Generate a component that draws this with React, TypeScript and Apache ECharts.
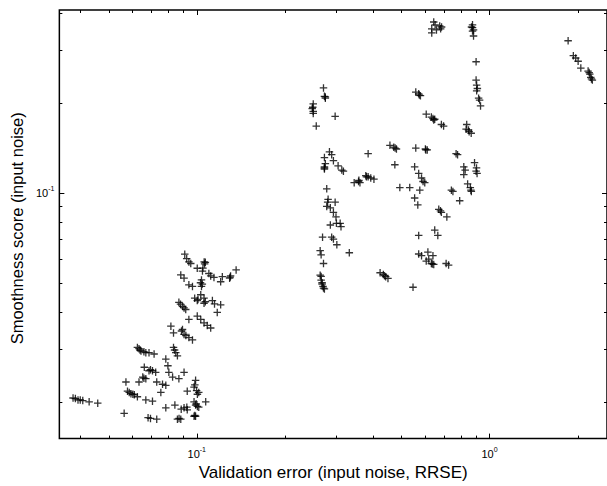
import { useEffect, useRef } from 'react';
import * as echarts from 'echarts';

const FONT = "'Liberation Sans', Arial, Helvetica, sans-serif";

// Axis extents (log scales) and tick values
const xRange = [0.03394, 2.52];
const yRange = [0.01507, 0.408];
const xMajorTicks = [0.1, 1];
const xMinorTicks = [0.04, 0.05, 0.06, 0.07, 0.08, 0.09, 0.2, 0.3, 0.4, 0.5, 0.6, 0.7, 0.8, 0.9, 2];
const yMajorTicks = [0.1];
const yMinorTicks = [0.02, 0.03, 0.04, 0.05, 0.06, 0.07, 0.08, 0.09, 0.2, 0.3, 0.4];

const xAxisTitle = 'Validation error (input noise, RRSE)';
const yAxisTitle = 'Smoothness score (input noise)';

// [validation error, smoothness score]
const leftTail: [number, number][] = [
  [0.0378, 0.0206], [0.0385, 0.0205], [0.0393, 0.0203], [0.04, 0.0203], [0.0408, 0.0202], [0.0429, 0.02], [0.0459, 0.0198],
];

const bottomCluster: [number, number][] = [
  [0.0627, 0.0304], [0.0635, 0.0301], [0.064, 0.0298], [0.0645, 0.0296], [0.066, 0.0294], [0.067, 0.0292], [0.0687, 0.0292], [0.0715, 0.0289],
  [0.0833, 0.0304], [0.084, 0.0298], [0.0848, 0.0292], [0.0859, 0.0285],
  [0.0784, 0.0278], [0.0797, 0.0264],
  [0.0662, 0.0261], [0.0687, 0.0254], [0.0695, 0.0256], [0.0706, 0.0254], [0.0724, 0.0251],
  [0.0803, 0.0251], [0.0827, 0.0242], [0.0869, 0.0239], [0.0905, 0.0251],
  [0.0654, 0.0242], [0.066, 0.024], [0.067, 0.0239], [0.0635, 0.0233],
  [0.0573, 0.0233], [0.058, 0.0217], [0.0588, 0.0215], [0.0596, 0.0213], [0.0605, 0.0212], [0.0612, 0.0211], [0.0627, 0.0208],
  [0.073, 0.0233], [0.0764, 0.0229], [0.0784, 0.0227], [0.0754, 0.0215],
  [0.0991, 0.0236], [0.0985, 0.0228], [0.0979, 0.0224], [0.0999, 0.0218], [0.1016, 0.0215], [0.1005, 0.0212], [0.0928, 0.0217],
  [0.067, 0.0203], [0.0706, 0.0201],
  [0.0565, 0.0183],
  [0.0784, 0.0191], [0.0842, 0.0195], [0.0905, 0.0191], [0.0925, 0.0192], [0.0885, 0.0189], [0.0979, 0.02], [0.0995, 0.0197],
  [0.0991, 0.0195], [0.1005, 0.0193], [0.1016, 0.0192], [0.1073, 0.02], [0.0928, 0.0188],
  [0.0682, 0.0177], [0.0695, 0.0176], [0.073, 0.0175], [0.0859, 0.0175], [0.087, 0.0176], [0.0882, 0.0175],
  [0.0979, 0.0179], [0.0985, 0.018], [0.0991, 0.0179],
];

const lowerCluster: [number, number][] = [
  [0.091, 0.0623], [0.0924, 0.0602], [0.094, 0.0587], [0.0954, 0.058], [0.106, 0.0587], [0.1064, 0.0578], [0.107, 0.0585],
  [0.1004, 0.0559], [0.105, 0.056], [0.1046, 0.0547], [0.11, 0.0537], [0.1116, 0.0527], [0.1145, 0.0521], [0.1223, 0.0524],
  [0.1207, 0.0504], [0.1305, 0.0527], [0.1295, 0.0518], [0.13, 0.0522], [0.1363, 0.0552],
  [0.0882, 0.0531], [0.0905, 0.0518], [0.094, 0.0492], [0.0967, 0.0486], [0.1038, 0.0511], [0.1038, 0.0486], [0.103, 0.05], [0.1045, 0.0495],
  [0.0984, 0.0444], [0.1004, 0.0436], [0.101, 0.044], [0.1032, 0.0456], [0.1059, 0.0444], [0.1059, 0.0427], [0.107, 0.0432],
  [0.1131, 0.0436], [0.115, 0.0425], [0.1207, 0.0422], [0.1175, 0.0398],
  [0.0869, 0.043], [0.088, 0.0424], [0.0894, 0.0417], [0.0905, 0.0412], [0.0917, 0.0407], [0.1004, 0.0387], [0.1032, 0.0377],
  [0.1059, 0.0367], [0.1086, 0.036], [0.1116, 0.0353], [0.094, 0.0377],
  [0.0816, 0.0358], [0.0833, 0.034], [0.0894, 0.0349], [0.0887, 0.0345], [0.0905, 0.0336], [0.0918, 0.0333], [0.094, 0.0328], [0.0967, 0.0322],
];

const midColumn: [number, number][] = [
  [0.284, 0.137], [0.289, 0.134], [0.273, 0.131], [0.293, 0.128], [0.273, 0.122], [0.273, 0.12], [0.273, 0.121], [0.275, 0.125],
  [0.304, 0.123], [0.313, 0.119], [0.317, 0.118],
  [0.278, 0.103], [0.281, 0.095], [0.278, 0.09], [0.286, 0.089], [0.297, 0.093], [0.28, 0.093], [0.293, 0.086], [0.299, 0.083],
  [0.286, 0.078], [0.309, 0.079], [0.3, 0.079], [0.311, 0.077], [0.269, 0.071], [0.289, 0.071], [0.293, 0.07], [0.301, 0.067], [0.332, 0.063],
  [0.264, 0.064], [0.266, 0.062], [0.271, 0.058], [0.264, 0.053], [0.266, 0.0525], [0.266, 0.051], [0.268, 0.05], [0.268, 0.0495],
  [0.27, 0.0486], [0.271, 0.048], [0.273, 0.0477],
];

const upperLeft: [number, number][] = [
  [0.271, 0.224], [0.275, 0.209], [0.275, 0.207], [0.273, 0.21], [0.25, 0.198], [0.248, 0.191], [0.25, 0.187], [0.25, 0.184],
  [0.249, 0.193], [0.256, 0.167], [0.297, 0.18],
];

const midRight: [number, number][] = [
  [0.608, 0.183], [0.633, 0.179], [0.641, 0.177], [0.65, 0.176], [0.645, 0.175], [0.685, 0.169], [0.697, 0.167],
  [0.836, 0.169], [0.832, 0.163], [0.848, 0.162], [0.866, 0.158], [0.852, 0.16],
  [0.457, 0.144], [0.471, 0.142], [0.481, 0.14], [0.476, 0.141], [0.56, 0.141], [0.604, 0.14], [0.613, 0.139], [0.606, 0.139],
  [0.385, 0.135], [0.769, 0.135], [0.778, 0.134], [0.475, 0.124], [0.555, 0.122],
  [0.817, 0.122], [0.826, 0.119], [0.817, 0.115], [0.889, 0.126], [0.9, 0.118], [0.907, 0.116], [0.903, 0.121],
  [0.573, 0.116], [0.586, 0.112], [0.593, 0.109], [0.601, 0.108],
  [0.345, 0.108], [0.358, 0.11], [0.361, 0.108], [0.357, 0.109], [0.378, 0.114], [0.385, 0.113], [0.38, 0.113], [0.393, 0.112], [0.403, 0.111],
  [0.494, 0.104], [0.534, 0.104], [0.578, 0.102],
  [0.842, 0.107], [0.86, 0.104], [0.867, 0.101], [0.864, 0.102], [0.741, 0.102], [0.75, 0.101], [0.791, 0.094],
  [0.555, 0.096], [0.569, 0.091], [0.671, 0.088], [0.685, 0.086], [0.68, 0.087], [0.715, 0.083],
];

const midLower: [number, number][] = [
  [0.573, 0.072], [0.65, 0.075], [0.666, 0.072],
  [0.573, 0.0624], [0.586, 0.0616], [0.616, 0.0633], [0.641, 0.0616], [0.608, 0.0591], [0.62, 0.06], [0.633, 0.058], [0.638, 0.0578],
  [0.645, 0.0576], [0.711, 0.058], [0.725, 0.0573],
  [0.423, 0.054], [0.434, 0.0533], [0.438, 0.0528], [0.442, 0.0524], [0.45, 0.0517],
  [0.548, 0.0483],
];

const topCluster: [number, number][] = [
  [0.645, 0.372], [0.635, 0.353], [0.635, 0.342], [0.676, 0.361], [0.686, 0.358], [0.681, 0.353], [0.659, 0.35], [0.652, 0.364],
  [0.875, 0.364], [0.875, 0.356], [0.882, 0.35], [0.875, 0.347], [0.882, 0.334], [0.868, 0.358],
  [0.9, 0.274], [0.9, 0.238], [0.904, 0.229], [0.909, 0.223], [0.904, 0.219], [0.918, 0.207], [0.925, 0.204], [0.932, 0.195],
  [0.56, 0.217], [0.573, 0.214], [0.581, 0.211], [0.576, 0.212],
];

const farRight: [number, number][] = [
  [1.856, 0.322], [1.934, 0.287], [1.97, 0.282], [2.008, 0.275], [2.051, 0.261], [2.172, 0.255], [2.19, 0.252],
  [2.201, 0.249], [2.218, 0.243], [2.23, 0.24], [2.246, 0.238],
];

const PLUS = 'path://M3.75,0L3.75,7.5M0,3.75L7.5,3.75';

export default function App() {
  const ref = useRef<HTMLDivElement>(null);
  useEffect(() => {
    if (!ref.current) return;
    const chart = echarts.init(ref.current, null, { renderer: 'svg' });
    const points = [
      ...leftTail, ...bottomCluster, ...lowerCluster, ...midColumn, ...upperLeft,
      ...midRight, ...midLower, ...topCluster, ...farRight,
    ];
    const fmt = (v: number) => {
      const l = Math.log10(v);
      const r = Math.round(l);
      if (Math.abs(l - r) > 1e-6) return '';
      return `{b|10}{s|${r}}`;
    };
    const rich = {
      b: { fontSize: 11, fontFamily: FONT, color: '#000' },
      s: { fontSize: 7, fontFamily: FONT, color: '#000', padding: [0, 0, 9, 0] },
    };
    const tickSeries = (values: number[], axis: 'x' | 'y', major: boolean) => ({
      type: 'custom',
      silent: true,
      clip: false,
      z: 5,
      data: values.map((v) => (axis === 'x' ? [v, 0.1] : [0.1, v])),
      renderItem: (params: any, api: any) => {
        const p = api.coord([api.value(0), api.value(1)]);
        const cs = params.coordSys;
        const len = major ? 5 : 3;
        const style = { stroke: '#000', lineWidth: 1 };
        if (axis === 'x') {
          const x = Math.round(p[0]) + 0.5;
          const b = cs.y + cs.height;
          return {
            type: 'group',
            children: [
              { type: 'line', shape: { x1: x, y1: b, x2: x, y2: b - len }, style },
              { type: 'line', shape: { x1: x, y1: cs.y, x2: x, y2: cs.y + len }, style },
            ],
          };
        }
        const y = Math.round(p[1]) + 0.5;
        const r = cs.x + cs.width;
        return {
          type: 'group',
          children: [
            { type: 'line', shape: { x1: cs.x, y1: y, x2: cs.x + len, y2: y }, style },
            { type: 'line', shape: { x1: r, y1: y, x2: r - len, y2: y }, style },
          ],
        };
      },
    });
    chart.setOption({
      animation: false,
      backgroundColor: '#fff',
      grid: {
        left: 58, top: 10, width: 550, height: 434,
        show: true, borderColor: '#000', borderWidth: 1.5, backgroundColor: '#fff',
      },
      xAxis: {
        type: 'log',
        min: xRange[0],
        max: xRange[1],
        name: xAxisTitle,
        nameLocation: 'middle',
        nameGap: 24,
        nameTextStyle: { fontFamily: FONT, fontSize: 17, color: '#000' },
        axisLine: { show: false },
        axisTick: { show: false },
        splitLine: { show: false },
        minorTick: { show: false },
        axisLabel: { formatter: fmt, rich, color: '#000', margin: 7, showMinLabel: false, showMaxLabel: false },
      },
      yAxis: {
        type: 'log',
        min: yRange[0],
        max: yRange[1],
        name: yAxisTitle,
        nameLocation: 'middle',
        nameGap: 32,
        nameTextStyle: { fontFamily: FONT, fontSize: 16.5, color: '#000', padding: [0, 8, 0, 0] },
        axisLine: { show: false },
        axisTick: { show: false },
        splitLine: { show: false },
        axisLabel: { formatter: fmt, rich, color: '#000', margin: 5, showMinLabel: false, showMaxLabel: false },
      },
      series: [
        {
          type: 'scatter',
          data: points,
          symbol: PLUS,
          symbolSize: 7.5,
          itemStyle: { color: '#000', borderColor: '#000', borderWidth: 1.3 },
          z: 3,
        },
        tickSeries(xMinorTicks, 'x', false),
        tickSeries(xMajorTicks, 'x', true),
        tickSeries(yMinorTicks, 'y', false),
        tickSeries(yMajorTicks, 'y', true),
      ],
    });
    return () => chart.dispose();
  }, []);
  return (
    <div
      ref={ref}
      style={{ position: 'absolute', left: 0, top: 0, width: 607, height: 486, background: '#fff' }}
    />
  );
}
